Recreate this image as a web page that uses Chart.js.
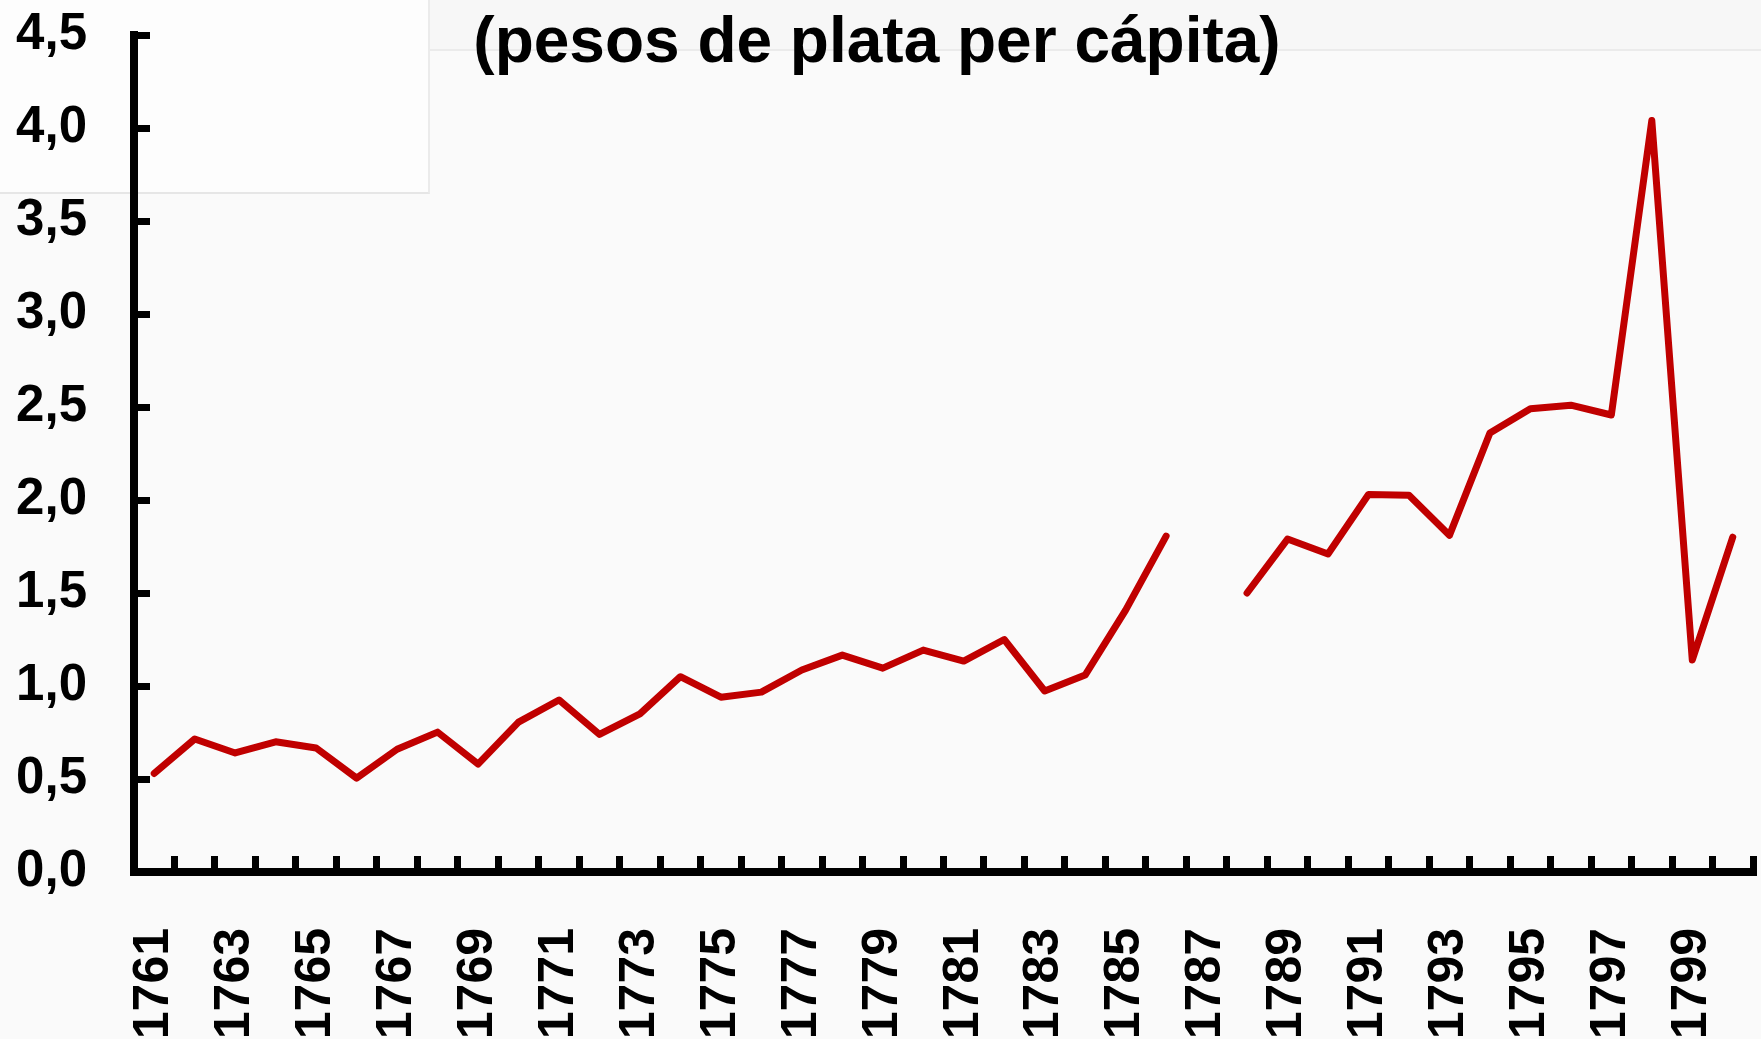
<!DOCTYPE html>
<html>
<head>
<meta charset="utf-8">
<script src="https://cdn.jsdelivr.net/npm/chart.js@4"></script>
<style>
  html, body { margin: 0; padding: 0; overflow: hidden; background: #fafafa; }
  #caja { position: relative; width: 1761px; height: 1039px; overflow: hidden; }
  #fondo1 { position: absolute; left: 428px; top: 0; width: 1333px; height: 49px; background: #f7f7f7; border-bottom: 2px solid #ebebeb; }
  #fondo2 { position: absolute; left: 0; top: 0; width: 428px; height: 192px; background: #fdfdfd; border-right: 2px solid #ebebeb; border-bottom: 2px solid #e6e6e6; }
  #titulo { position: absolute; left: 0; top: 9px; width: 1754px; text-align: center; font: bold 64px "Liberation Sans", Arial, sans-serif; line-height: 62px; color: #000; }
  canvas { position: absolute; left: 0; top: 0; }
</style>
</head>
<body>
<div id="caja">
  <div id="fondo1"></div>
  <div id="fondo2"></div>
  <canvas id="grafica" width="1761" height="1140"></canvas>
  <div id="titulo">(pesos de plata per cápita)</div>
</div>
<script>
// años 1761-1800
const anios = []
for (let a = 1761; a <= 1800; a++) anios.push(String(a))

// pesos de plata per cápita (1787 sin dato)
const valores = [
  0.53, 0.715, 0.64, 0.70, 0.667, 0.505, 0.66, 0.752, 0.58, 0.806,
  0.925, 0.74, 0.85, 1.05, 0.94, 0.967, 1.086, 1.166, 1.096, 1.193,
  1.134, 1.25, 0.973, 1.059, 1.408, 1.806, null, 1.50, 1.79, 1.71,
  2.03, 2.026, 1.81, 2.36, 2.49, 2.51, 2.457, 4.04, 1.14, 1.80
]

const etiquetasY = ["0,0", "0,5", "1,0", "1,5", "2,0", "2,5", "3,0", "3,5", "4,0", "4,5"]

const fuente = "'Liberation Sans', Arial, sans-serif"

const canvas = document.querySelector("#grafica")

new Chart(canvas, {
    type: "line",
    data: {
        labels: anios,
        datasets: [{
            data: valores,
            borderColor: "#c00000",
            borderWidth: 7,
            borderJoinStyle: "round",
            borderCapStyle: "round",
            pointRadius: 0,
            spanGaps: false,
            tension: 0
        }]
    },
    options: {
        responsive: false,
        animation: false,
        layout: { padding: { top: 35, right: 8, bottom: 0, left: 0 } },
        plugins: {
            legend: { display: false },
            tooltip: { enabled: false }
        },
        scales: {
            x: {
                offset: true,
                grid: {
                    offset: true,
                    drawOnChartArea: false,
                    color: "#000",
                    lineWidth: 7,
                    tickLength: -16
                },
                border: { color: "#000", width: 8 },
                ticks: {
                    autoSkip: false,
                    minRotation: 90,
                    maxRotation: 90,
                    padding: 72,
                    color: "#000",
                    font: { family: fuente, size: 50, weight: "bold" },
                    callback: (v, i) => i % 2 === 0 ? anios[i] : ""
                },
                afterFit: (escala) => {
                    escala.height = 268
                    escala.paddingLeft = 0
                    escala.paddingRight = 0
                }
            },
            y: {
                min: 0,
                max: 4.5,
                grid: {
                    drawOnChartArea: false,
                    color: "#000",
                    lineWidth: 7,
                    tickLength: -16
                },
                border: { color: "#000", width: 8 },
                ticks: {
                    stepSize: 0.5,
                    padding: 63,
                    color: "#000",
                    font: { family: fuente, size: 51, weight: "bold" },
                    callback: (v, i) => etiquetasY[i]
                },
                afterFit: (escala) => {
                    escala.width = 134
                    escala.paddingTop = 0
                    escala.paddingBottom = 0
                }
            }
        }
    }
})
</script>
</body>
</html>
